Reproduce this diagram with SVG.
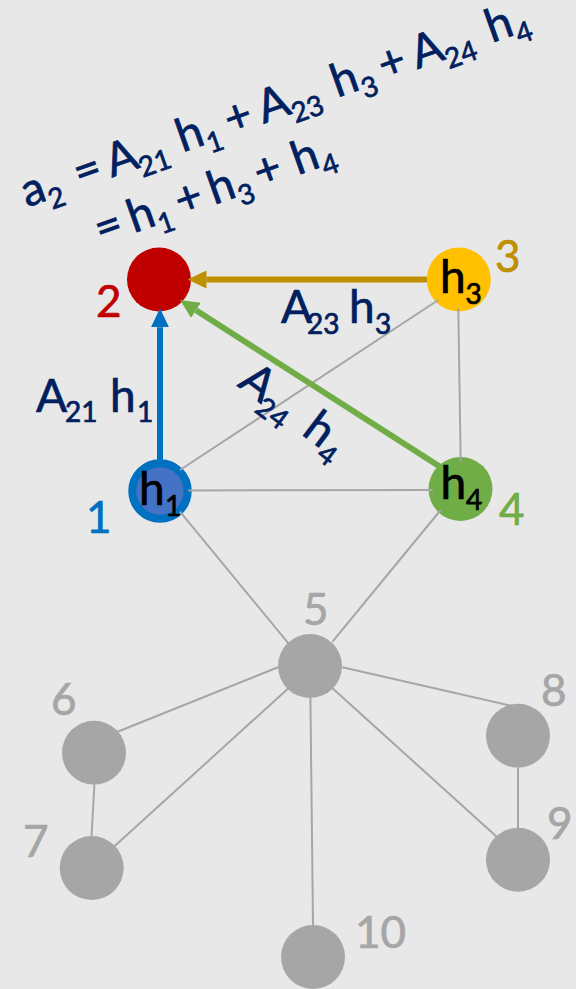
<svg xmlns="http://www.w3.org/2000/svg" width="576" height="989" viewBox="0 0 576 989">
<defs>
<style>
text{font-family:Lato,"Open Sans","Liberation Sans",sans-serif;stroke-width:0.7}
.m{font-size:46px;fill:#002060;stroke:#002060}
.k{font-size:46px;fill:#000000;stroke:#000000}
.s{font-size:28px}
.num{font-size:44px}
.g{fill:#A6A6A6}
.gt{fill:#A6A6A6;stroke:#A6A6A6}
.edge{stroke:#A6A6A6;stroke-width:2;fill:none}
</style>
<marker id="hBlue" markerUnits="userSpaceOnUse" viewBox="0 0 19 18" markerWidth="19" markerHeight="18" refX="0" refY="9" orient="auto"><path d="M0,0 L19,9 L0,18 Z" fill="#0070C0"/></marker>
<marker id="hGold" markerUnits="userSpaceOnUse" viewBox="0 0 19 18" markerWidth="19" markerHeight="18" refX="0" refY="9" orient="auto"><path d="M0,0 L19,9 L0,18 Z" fill="#BF9000"/></marker>
<marker id="hGreen" markerUnits="userSpaceOnUse" viewBox="0 0 19 18" markerWidth="19" markerHeight="18" refX="0" refY="9" orient="auto"><path d="M0,0 L19,9 L0,18 Z" fill="#70AD47"/></marker>
</defs>
<rect width="576" height="989" fill="#E8E8E8"/>

<g id="formula">
<g transform="translate(27,207.5) rotate(-19.5)">
<text class="m"><tspan x="0" y="0">a</tspan><tspan class="s" x="23" y="10.5">2</tspan><tspan x="56" y="0">=</tspan><tspan x="90" y="0">A</tspan><tspan class="s" x="119" y="10.5">21</tspan><tspan x="165" y="0">h</tspan><tspan class="s" x="191" y="10.5">1</tspan><tspan x="216" y="0">+</tspan><tspan x="251" y="0">A</tspan><tspan class="s" x="281" y="10.5">23</tspan><tspan x="329" y="0">h</tspan><tspan class="s" x="355" y="10.5">3</tspan><tspan x="379" y="0">+</tspan><tspan x="414" y="0">A</tspan><tspan class="s" x="444" y="10.5">24</tspan><tspan x="493" y="0">h</tspan><tspan class="s" x="519" y="10.5">4</tspan></text>
<text class="m"><tspan x="57" y="60">=</tspan><tspan x="92" y="60">h</tspan><tspan class="s" x="118" y="70.5">1</tspan><tspan x="142" y="60">+</tspan><tspan x="177" y="60">h</tspan><tspan class="s" x="203" y="70.5">3</tspan><tspan x="226" y="60">+</tspan><tspan x="266" y="60">h</tspan><tspan class="s" x="292" y="70.5">4</tspan></text>
</g>
</g>

<g id="node2">
<circle cx="159" cy="279.5" r="32" fill="#C00000"/>
<text class="num" x="96" y="316.7" fill="#C00000" stroke="#C00000">2</text>
</g>
<g id="node3">
<circle cx="458.8" cy="279.5" r="32" fill="#FFC000"/>
<text class="k"><tspan x="440" y="293.3">h</tspan><tspan class="s" x="465.5" y="304">3</tspan></text>
<text class="num" x="495" y="272.3" fill="#BF9000" stroke="#BF9000">3</text>
</g>
<g id="node1">
<circle cx="160" cy="491" r="27.7" fill="#4472C4" stroke="#0070C0" stroke-width="8"/>
<text class="k"><tspan x="139" y="505">h</tspan><tspan class="s" x="165" y="515.5">1</tspan></text>
<text class="num" x="86" y="533" fill="#0070C0" stroke="#0070C0">1</text>
</g>
<g id="node4">
<circle cx="460.5" cy="489" r="32" fill="#70AD47"/>
<text class="k"><tspan x="440.5" y="499.3">h</tspan><tspan class="s" x="466" y="510">4</tspan></text>
<text class="num" x="499" y="525" fill="#70AD47" stroke="#70AD47">4</text>
</g>
<g id="node5">
<circle class="g" cx="310" cy="666" r="32"/>
<text class="num gt" x="303" y="625">5</text>
</g>
<g id="node6">
<circle class="g" cx="94" cy="752.7" r="32"/>
<text class="num gt" x="51" y="715">6</text>
</g>
<g id="node7">
<circle class="g" cx="91.7" cy="868" r="32"/>
<text class="num gt" x="23" y="857">7</text>
</g>
<g id="node8">
<circle class="g" cx="518" cy="735.7" r="32"/>
<text class="num gt" x="541" y="706">8</text>
</g>
<g id="node9">
<circle class="g" cx="518" cy="859.7" r="32"/>
<text class="num gt" x="547" y="839">9</text>
</g>
<g id="node10">
<circle class="g" cx="313" cy="957" r="32"/>
<text class="num gt" x="355" y="948">10</text>
</g>

<g id="connectors">
<line class="edge" x1="180" y1="470" x2="438.3" y2="300"/>
<line class="edge" x1="188.3" y1="490.5" x2="432.7" y2="490"/>
<line class="edge" x1="458.3" y1="308.3" x2="460.7" y2="461.7"/>
<line class="edge" x1="180" y1="511.7" x2="288.4" y2="643.3"/>
<line class="edge" x1="440.7" y1="510" x2="332.5" y2="641.7"/>
<line class="edge" x1="278" y1="667.3" x2="117.6" y2="731.7"/>
<line class="edge" x1="288.4" y1="688.3" x2="113.9" y2="846.7"/>
<line class="edge" x1="310.4" y1="697.3" x2="313" y2="925"/>
<line class="edge" x1="342.4" y1="667.3" x2="512.5" y2="706"/>
<line class="edge" x1="332.5" y1="688.3" x2="496.7" y2="836.7"/>
<line class="edge" x1="94.4" y1="784.7" x2="91.5" y2="836.7"/>
<line class="edge" x1="518" y1="767.7" x2="518" y2="828.3"/>
<line x1="160" y1="460" x2="160" y2="327.3" stroke="#0070C0" stroke-width="6" marker-end="url(#hBlue)"/>
<line x1="427" y1="279.5" x2="206.5" y2="279.5" stroke="#BF9000" stroke-width="6" marker-end="url(#hGold)"/>
<line x1="440" y1="466.7" x2="196" y2="310.3" stroke="#70AD47" stroke-width="6" marker-end="url(#hGreen)"/>
</g>

<g id="edge-labels">
<text class="m"><tspan x="36" y="411.7">A</tspan><tspan class="s" x="65" y="422">21</tspan><tspan x="110" y="411.7">h</tspan><tspan class="s" x="137" y="422">1</tspan></text>
<text class="m"><tspan x="281" y="323.3">A</tspan><tspan class="s" x="307" y="334">23</tspan><tspan x="349" y="323.3">h</tspan><tspan class="s" x="375" y="334">3</tspan></text>
<g transform="translate(236.5,385.5) rotate(37)">
<text class="m"><tspan x="0" y="0">A</tspan><tspan class="s" x="29" y="10.5">24</tspan><tspan x="80" y="0">h</tspan><tspan class="s" x="106" y="10.5">4</tspan></text>
</g>
</g>
</svg>
